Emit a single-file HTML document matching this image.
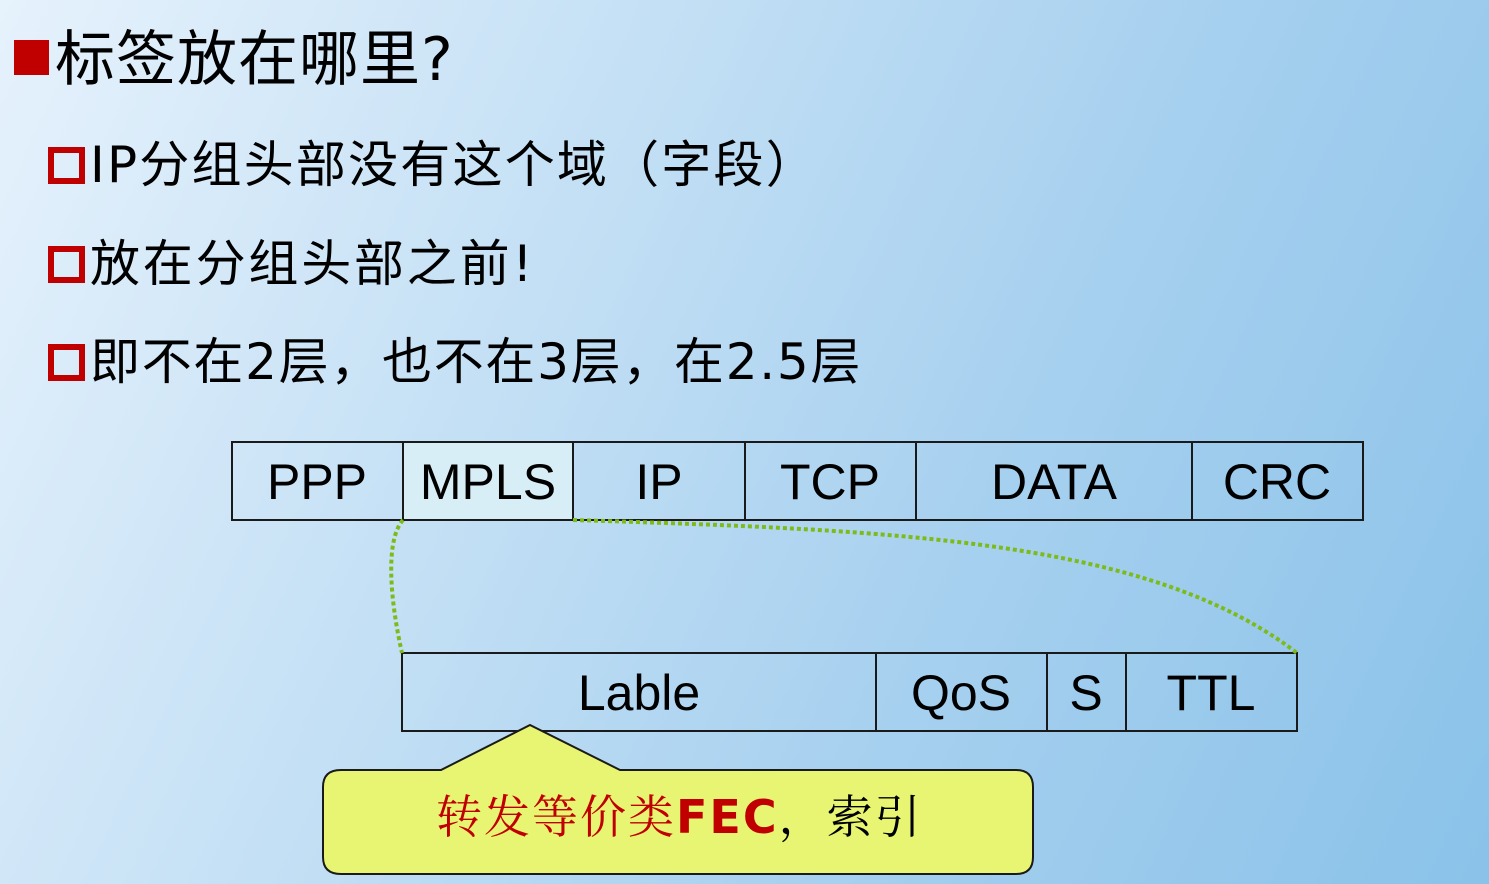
<!DOCTYPE html>
<html><head><meta charset="utf-8"><style>
body{margin:0;width:1489px;height:884px;overflow:hidden;background:linear-gradient(115deg,#e6f2fc 0%,#c4e0f5 35%,#a6d0ef 65%,#8ac2e9 100%);font-family:"DejaVu Sans","Noto Sans CJK SC",sans-serif;position:relative}
.t{position:absolute;white-space:nowrap;color:#000}
.sq{position:absolute;width:25px;height:25px;border:6px solid #c00000}
</style></head><body>
<div style="position:absolute;left:14px;top:40px;width:35px;height:35px;background:#c00000"></div>
<div class="t" style="left:55px;top:22px;font-size:60px;line-height:76px;letter-spacing:1px">标签放在哪里?</div>
<div class="sq" style="left:48px;top:147px"></div>
<div class="t" style="left:90px;top:133px;font-size:50px;line-height:64px;letter-spacing:2.2px">IP分组头部没有这个域（字段）</div>
<div class="sq" style="left:48px;top:246px"></div>
<div class="t" style="left:90px;top:232px;font-size:50px;line-height:64px;letter-spacing:2.8px">放在分组头部之前!</div>
<div class="sq" style="left:48px;top:344px"></div>
<div class="t" style="left:90px;top:330px;font-size:50px;line-height:64px;letter-spacing:1.7px">即不在2层，也不在3层，在2.5层</div>
<svg width="1489" height="884" style="position:absolute;left:0;top:0" font-family="Liberation Sans, DejaVu Sans, sans-serif" font-size="50">
<rect x="403" y="442" width="170" height="78" fill="#d8eef6"/>
<g fill="none" stroke="#1a1a1a" stroke-width="2">
<rect x="232" y="442" width="1131" height="78"/>
<path d="M403 442V520M573 442V520M745 442V520M916 442V520M1192 442V520"/>
<rect x="402" y="653" width="895" height="78"/>
<path d="M876 653V731M1047 653V731M1126 653V731"/>
</g>
<g text-anchor="middle">
<text x="317" y="499">PPP</text><text x="488" y="499">MPLS</text><text x="659" y="499">IP</text><text x="830" y="499">TCP</text><text x="1054" y="499">DATA</text><text x="1277" y="499">CRC</text>
<text x="639" y="710">Lable</text><text x="961" y="710">QoS</text><text x="1086" y="710">S</text><text x="1211" y="710">TTL</text>
</g>
<g fill="none" stroke="#7dbb1a" stroke-width="4" stroke-dasharray="4 3">
<path d="M403 520 C385 540 390 600 402 653"/>
<path d="M573 520 C900 530 1150 540 1297 653"/>
</g>
<path d="M341 770 H441 L530 725 L620 770 H1016 Q1033 770 1033 787 V857 Q1033 874 1016 874 H341 Q323 874 323 857 V787 Q323 770 341 770Z" fill="#e8f572" stroke="#1a1a1a" stroke-width="2"/>
<text x="436" y="833" font-size="46" font-family="Noto Serif CJK SC, serif" fill="#c00000" letter-spacing="2">转发等价类<tspan font-family="DejaVu Sans, sans-serif" font-weight="bold">FEC</tspan><tspan fill="#000">，索引</tspan></text>
</svg>
</body></html>
